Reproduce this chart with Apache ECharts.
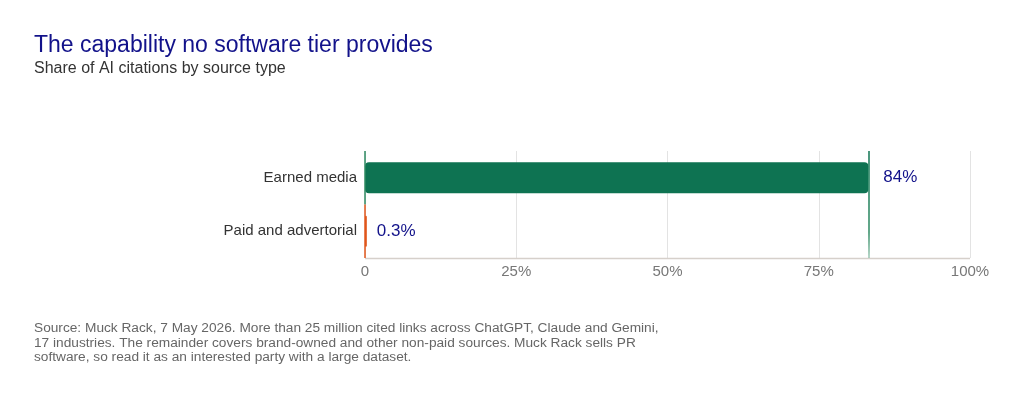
<!DOCTYPE html>
<html>
<head>
<meta charset="utf-8">
<script src="https://cdn.jsdelivr.net/npm/echarts@6/dist/echarts.min.js"></script>
<style>
  html, body { margin: 0; padding: 0; background: #fff; }
  #chart { width: 1024px; height: 400px; }
</style>
</head>
<body>
<div id="chart"></div>
<script>
var categories = ['Earned media', 'Paid and advertorial'];
var shares = [83.2, 0.3];
var shareLabels = ['84%', '0.3%'];
var barColors = ['#0e7352', '#e0561b'];
var edgeColors = ['#2e8a62', '#e0561b'];
var tickLabels = ['0', '25%', '50%', '75%', '100%'];

var FONT = '"Liberation Sans", Arial, sans-serif';

var myChart = echarts.init(document.getElementById('chart'));

var option = {
    backgroundColor: '#fff',
    animation: false,
    textStyle: { fontFamily: FONT },
    title: {
        text: 'The capability no software tier provides',
        subtext: 'Share of AI citations by source type',
        left: 29,
        top: 29,
        itemGap: 4,
        textStyle: { fontFamily: FONT, fontSize: 23, fontWeight: 'normal', color: '#12128a' },
        subtextStyle: { fontFamily: FONT, fontSize: 16, color: '#333' }
    },
    grid: { left: 365, right: 54, top: 151, bottom: 142 },
    xAxis: {
        type: 'value',
        min: 0,
        max: 100,
        interval: 25,
        axisLine: { show: false },
        axisTick: { show: false },
        splitLine: { lineStyle: { color: '#e3e3e3' } },
        axisLabel: {
            color: '#777',
            fontSize: 15,
            margin: 6,
            formatter: function (v) { return tickLabels[Math.round(v / 25)]; }
        }
    },
    yAxis: {
        type: 'category',
        inverse: true,
        data: categories,
        axisTick: { show: false },
        axisLine: { show: false },
        axisLabel: { color: '#333', fontSize: 15, margin: 8 }
    },
    graphic: [
        {
            type: 'line',
            shape: { x1: 365, y1: 258.5, x2: 970, y2: 258.5 },
            style: { stroke: '#d6d0cb', lineWidth: 1.5 },
            z: 1
        },
        {
            type: 'text',
            left: 34,
            top: 321,
            style: {
                text: 'Source: Muck Rack, 7 May 2026. More than 25 million cited links across ChatGPT, Claude and Gemini,\n17 industries. The remainder covers brand-owned and other non-paid sources. Muck Rack sells PR\nsoftware, so read it as an interested party with a large dataset.',
                font: '13.7px ' + FONT,
                fill: '#666',
                lineHeight: 14.5
            }
        }
    ],
    series: [
        {
            type: 'bar',
            barWidth: 31,
            z: 3,
            data: shares.map(function (v, i) {
                return {
                    value: v,
                    itemStyle: { color: barColors[i], borderRadius: 4 },
                    label: { distance: i === 0 ? 15 : 10 }
                };
            }),
            label: {
                show: true,
                position: 'right',
                color: '#12128a',
                fontSize: 17,
                formatter: function (p) { return shareLabels[p.dataIndex]; }
            },
            markLine: {
                silent: true,
                symbol: 'none',
                label: { show: false },
                lineStyle: {
                    type: 'solid',
                    width: 1.5,
                    color: new echarts.graphic.LinearGradient(0, 0, 0, 1, [
                        { offset: 0, color: '#0e7352' },
                        { offset: 0.75, color: '#2e8a62' },
                        { offset: 1, color: 'rgba(46,138,98,0.4)' }
                    ])
                },
                data: [{ xAxis: shares[0] }]
            }
        },
        {
            // baseline edge per category band
            type: 'custom',
            z: 4,
            silent: true,
            data: categories.map(function (c, i) { return [0, i]; }),
            renderItem: function (params, api) {
                var p = api.coord([api.value(0), api.value(1)]);
                var band = api.size([0, 1])[1];
                return {
                    type: 'line',
                    shape: { x1: p[0], y1: p[1] - band / 2, x2: p[0], y2: p[1] + band / 2 },
                    style: { stroke: edgeColors[params.dataIndex], lineWidth: 1.5 }
                };
            }
        }
    ]
};

myChart.setOption(option);
</script>
</body>
</html>
